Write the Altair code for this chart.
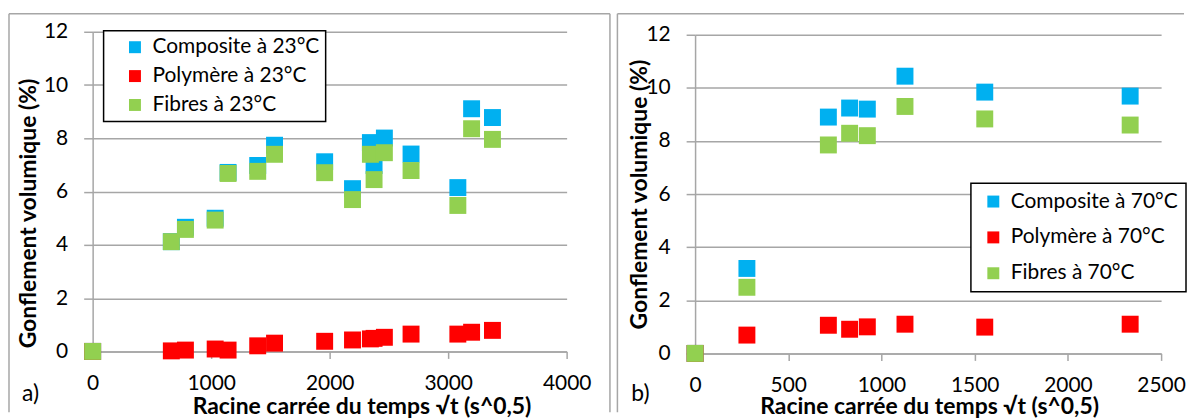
import altair as alt
import pandas as pd

# ---------------- data ----------------
x23 = [0, 664, 783, 1034, 1143, 1393, 1535, 1958, 2193, 2344, 2375, 2462, 2687, 3082, 3198, 3374]
comp23 = [0, 4.12, 4.66, 5.00, 6.72, 6.98, 7.74, 7.12, 6.11, 7.84, 6.98, 8.01, 7.41, 6.15, 9.11, 8.78]
poly23 = [0, 0.02, 0.05, 0.09, 0.05, 0.21, 0.31, 0.38, 0.43, 0.47, 0.49, 0.53, 0.65, 0.65, 0.72, 0.79]
fib23 = [0, 4.12, 4.58, 4.93, 6.68, 6.76, 7.40, 6.71, 5.70, 7.40, 6.45, 7.46, 6.79, 5.48, 8.36, 7.96]

x70 = [0, 278, 715, 829, 924, 1126, 1554, 2334]
comp70 = [0, 3.20, 8.90, 9.24, 9.20, 10.44, 9.84, 9.69]
poly70 = [0, 0.69, 1.06, 0.91, 1.00, 1.10, 0.99, 1.10]
fib70 = [0, 2.49, 7.85, 8.29, 8.20, 9.30, 8.83, 8.60]

names23 = ["Composite à 23°C", "Polymère à 23°C", "Fibres à 23°C"]
names70 = ["Composite à 70°C", "Polymère à 70°C", "Fibres à 70°C"]
yticks = [0, 2, 4, 6, 8, 10, 12]
xticks23 = [0, 1000, 2000, 3000, 4000]
xticks70 = [0, 500, 1000, 1500, 2000, 2500]
colors = ["#00b0f0", "#ff0000", "#92d050"]

xtitle = "Racine carrée du temps  √t (s^0,5)"
ytitle = "Gonflement volumique (%)"

FONT = "Lato"
GREY = "#a6a6a6"


def make_df(x, series, names):
    rows = []
    for k, (name, vals) in enumerate(zip(names, series)):
        for xi, yi in zip(x, vals):
            rows.append({"x": xi, "y": yi, "serie": name, "ord": k})
    return pd.DataFrame(rows)


def rule(x, y, x2=None, y2=None):
    enc = {"x": alt.value(x), "y": alt.value(y)}
    if x2 is not None:
        enc["x2"] = alt.value(x2)
    if y2 is not None:
        enc["y2"] = alt.value(y2)
    return alt.Chart(pd.DataFrame({"a": [0]})).mark_rule(
        color=GREY, strokeWidth=1.5).encode(**enc)


def panel(df, names, xmax, xticks, width, height, yrange, leg_x, leg_y, leg_pad,
          row_pad, sym_off, ytx, yty, xtx, xty, frames, tag, tag_x, tag_y):
    pts = alt.Chart(df).mark_square(size=289, opacity=1, strokeWidth=0).encode(
        x=alt.X("x:Q",
                scale=alt.Scale(domain=[0, xmax], nice=False, zero=True),
                axis=alt.Axis(values=xticks, format="d", grid=False,
                              domainColor=GREY, domainWidth=1.5,
                              tickColor=GREY, tickWidth=1.5, tickSize=7,
                              labelFont=FONT, labelFontSize=21, labelColor="black",
                              labelPadding=14, labelFlush=False,
                              title=xtitle, titleFont=FONT, titleFontSize=23,
                              titleFontWeight="bold", titleColor="black",
                              titleX=xtx, titleY=xty, titleAlign="center",
                              titleBaseline="middle")),
        y=alt.Y("y:Q",
                scale=alt.Scale(domain=[0, 12], nice=False, zero=True, range=yrange),
                axis=alt.Axis(values=yticks, grid=True, gridColor=GREY, gridWidth=1.5,
                              domainColor=GREY, domainWidth=1.5,
                              tickColor=GREY, tickWidth=1.5, tickSize=9,
                              labelFont=FONT, labelFontSize=21, labelColor="black",
                              labelPadding=16,
                              title=ytitle, titleFont=FONT, titleFontSize=23,
                              titleFontWeight="bold", titleColor="black",
                              titleAngle=-90, titleX=ytx, titleY=yty,
                              titleAlign="center", titleBaseline="middle")),
        color=alt.Color("serie:N",
                        scale=alt.Scale(domain=names, range=colors),
                        sort=names,
                        legend=alt.Legend(orient="none", legendX=leg_x, legendY=leg_y,
                                          title=None, symbolType="square",
                                          symbolSize=144, symbolStrokeWidth=0,
                                          symbolOpacity=1,
                                          labelFont=FONT, labelFontSize=21,
                                          labelColor="black", labelOffset=7,
                                          labelLimit=400,
                                          symbolOffset=sym_off, rowPadding=row_pad,
                                          padding=leg_pad, fillColor="white")),
        order=alt.Order("ord:Q"),
    )
    label = alt.Chart(pd.DataFrame({"t": [tag]})).mark_text(
        align="left", baseline="middle", font=FONT, fontSize=23, color="black"
    ).encode(text="t:N", x=alt.value(tag_x), y=alt.value(tag_y))
    layers = [rule(*f) for f in frames] + [label, pts]
    return alt.layer(*layers).properties(width=width, height=height)


df23 = make_df(x23, [comp23, poly23, fib23], names23)
df70 = make_df(x70, [comp70, poly70, fib70], names70)

left = panel(df23, names23, 4000, xticks23, 476, 321, [321, 0],
             11, -1, 6, 7, 15, -64, 182, 270, 55,
             [(-84, -18, None, 382), (-84, -18, 519.5, None), (519.5, -18, None, 382)],
             "a)", -71, 364)

right = panel(df70, names70, 2500, xticks70, 468, 323, [323, 3],
              277, 152, 8, 14, 4, -56, 163, 235, 53,
              [(-78, -18, None, 382), (-78, -18, 491, None)],
              "b)", -64, 364)

chart = alt.hconcat(left, right, spacing=5).resolve_scale(
    color="independent"
).resolve_legend(
    color="independent"
).configure(
    padding={"left": 0, "top": 4, "right": 0, "bottom": 0},
    background="white",
).configure_view(stroke=None).configure_legend(
    strokeColor="black", strokeWidth=1.5
)

chart.save("out.html", embed_options={"renderer": "svg", "actions": False})
